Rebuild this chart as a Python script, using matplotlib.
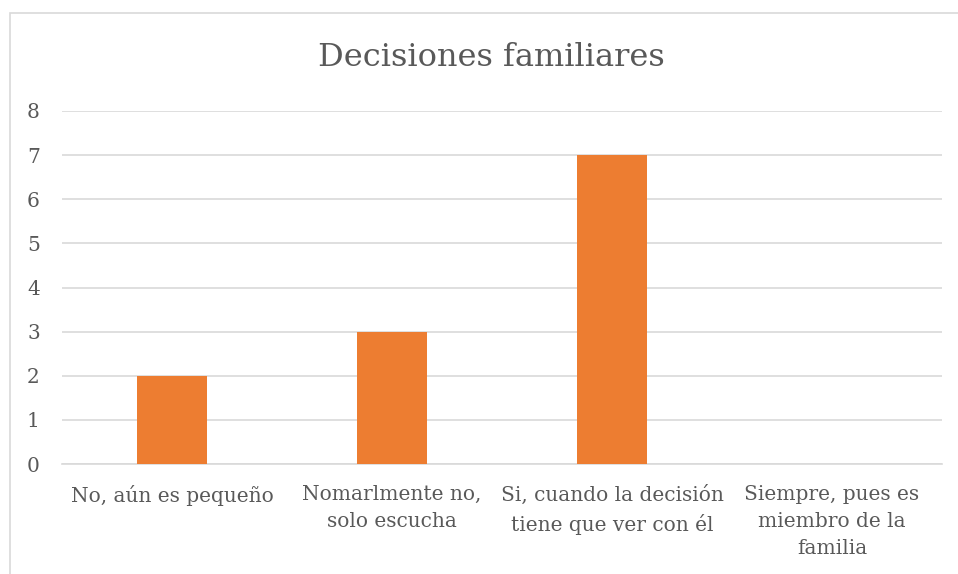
import matplotlib.pyplot as plt
from matplotlib.patches import Rectangle

categories = ["No, aún es pequeño", "Nomarlmente no,\nsolo escucha",
              "Si, cuando la decisión\ntiene que ver con él",
              "Siempre, pues es\nmiembro de la\nfamilia"]
values = [2, 3, 7, 0]
yticks = [0, 1, 2, 3, 4, 5, 6, 7, 8]

plt.rcParams['font.family'] = ['DejaVu Serif']
text_color = "#595959"
grid_color = "#d9d9d9"

fig = plt.figure(figsize=(9.58, 5.74), dpi=100)
ax = fig.add_axes([62/958, 1 - 464/574, 880/958, 353/574])

x = list(range(len(categories)))
ax.bar(x, values, width=0.32, color="#ed7d31", zorder=3)

ax.set_xlim(-0.5, len(categories) - 0.5)
ax.set_ylim(0, 8)
ax.set_yticks(yticks)
ax.set_xticks(x)
ax.set_xticklabels(categories, fontsize=14.5, color=text_color, linespacing=1.55, va="top")
ax.tick_params(axis="y", labelsize=14.5, labelcolor=text_color, length=0, pad=16)
ax.tick_params(axis="x", length=0, pad=15)
ax.grid(axis="y", color=grid_color, linewidth=1.2, zorder=0)
for s in ["top", "right", "left"]:
    ax.spines[s].set_visible(False)
ax.spines["bottom"].set_color(grid_color)
ax.spines["bottom"].set_linewidth(1.2)

fig.text(491/958, 1 - 58/574, "Decisiones familiares", fontsize=23, color=text_color,
         ha="center", va="center")

# chart border
fig.patches.append(Rectangle((10/958, -0.1), 1.2, 1 - 13/574 + 0.1, transform=fig.transFigure,
                             fill=False, edgecolor=grid_color, linewidth=1.2))

fig.savefig("out.png", dpi=100)
